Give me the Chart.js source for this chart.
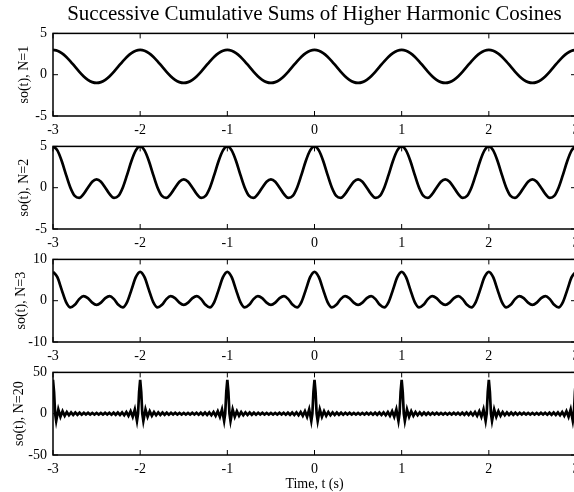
<!DOCTYPE html>
<html>
<head>
<meta charset="utf-8">
<script src="https://cdn.jsdelivr.net/npm/chart.js@4.4.0/dist/chart.umd.min.js"></script>
<style>
  html, body { margin: 0; padding: 0; background: #fff; overflow: hidden; }
  #page { position: relative; width: 574px; height: 492px; overflow: hidden; }
  #title { position: absolute; left: 53px; width: 523px; top: 0; text-align: center;
           font: 21px "Liberation Serif", serif; line-height: 26px; color: #000; white-space: nowrap; }
  canvas { position: absolute; left: 0; }
</style>
</head>
<body>
<div id="page">
  <canvas id="c1" width="590" height="122" style="top:19px"></canvas>
  <canvas id="c2" width="590" height="122" style="top:132px"></canvas>
  <canvas id="c3" width="590" height="122" style="top:245px"></canvas>
  <canvas id="c4" width="590" height="134" style="top:358px"></canvas>
  <div id="title">Successive Cumulative Sums of Higher Harmonic Cosines</div>
</div>
<script>
const periodStarts = [-3, -2, -1, 0, 1, 2];
const tEnd = 3;

// one period, sampled every 0.05 s (N = 1, 2, 3)
const offsetsSmooth = [0, 0.05, 0.1, 0.15, 0.2, 0.25, 0.3, 0.35, 0.4, 0.45,
                       0.5, 0.55, 0.6, 0.65, 0.7, 0.75, 0.8, 0.85, 0.9, 0.95];
const valuesN1 = [3, 2.90, 2.62, 2.18, 1.62, 1, 0.38, -0.18, -0.62, -0.90,
                  -1, -0.90, -0.62, -0.18, 0.38, 1, 1.62, 2.18, 2.62, 2.90];
const valuesN2 = [5, 4.52, 3.24, 1.56, 0, -1, -1.24, -0.79, 0, 0.72,
                  1, 0.72, 0, -0.79, -1.24, -1, 0, 1.56, 3.24, 4.52];
const valuesN3 = [7, 5.70, 2.62, -0.34, -1.62, -1, 0.38, 1.11, 0.62, -0.46,
                  -1, -0.46, 0.62, 1.11, 0.38, -1, -1.62, -0.34, 2.62, 5.70];

// one period for N = 20: the spike and the ripple peaks
const offsetsN20 = [0, 0.0122, 0.0244, 0.0366, 0.0610, 0.0854, 0.1098, 0.1341, 0.1585, 0.1829,
                    0.2073, 0.2317, 0.2561, 0.2805, 0.3049, 0.3293, 0.3537, 0.3780, 0.4024, 0.4268,
                    0.4512, 0.4756, 0.5, 0.5244, 0.5488, 0.5732, 0.5976, 0.6220, 0.6463, 0.6707,
                    0.6951, 0.7195, 0.7439, 0.7683, 0.7927, 0.8171, 0.8415, 0.8659, 0.8902, 0.9146,
                    0.9390, 0.9634, 0.9756, 0.9878];
const valuesN20 = [41, 26.1, 0, -8.72, 5.25, -3.77, 2.95, -2.44, 2.09, -1.84,
                   1.65, -1.50, 1.39, -1.30, 1.22, -1.16, 1.12, -1.08, 1.05, -1.03,
                   1.01, -1.00, 1.00, -1.00, 1.01, -1.03, 1.05, -1.08, 1.12, -1.16,
                   1.22, -1.30, 1.39, -1.50, 1.65, -1.84, 2.09, -2.44, 2.95, -3.77,
                   5.25, -8.72, 0, 26.1];

const xTicks = [-3, -2, -1, 0, 1, 2, 3];
const yLabels = ['so(t), N=1', 'so(t), N=2', 'so(t), N=3', 'so(t), N=20'];
const yRanges = [[-5, 5, 5], [-5, 5, 5], [-10, 10, 10], [-50, 50, 50]];

// lay the period over every second from -3 to 3
function buildSeries(offsets, values) {
  const pts = [];
  periodStarts.forEach((s) => {
    offsets.forEach((o, i) => pts.push({ x: s + o, y: values[i] }));
  });
  pts.push({ x: tEnd, y: values[0] });
  return pts;
}

// MATLAB-like box with inward tick marks
const boxPlugin = {
  id: 'box',
  afterDatasetsDraw(chart) {
    const { ctx, chartArea: a, scales: { x, y } } = chart;
    ctx.save();
    ctx.strokeStyle = '#000';
    ctx.lineWidth = 1.5;
    ctx.strokeRect(a.left, a.top, a.width, a.height);
    ctx.lineWidth = 1;
    ctx.beginPath();
    x.ticks.forEach((t) => {
      const px = x.getPixelForValue(t.value);
      ctx.moveTo(px, a.top); ctx.lineTo(px, a.top + 5);
      ctx.moveTo(px, a.bottom); ctx.lineTo(px, a.bottom - 5);
    });
    y.ticks.forEach((t) => {
      const py = y.getPixelForValue(t.value);
      ctx.moveTo(a.left, py); ctx.lineTo(a.left + 5, py);
      ctx.moveTo(a.right, py); ctx.lineTo(a.right - 5, py);
    });
    ctx.stroke();
    ctx.restore();
  },
};

Chart.defaults.font.family = '"Liberation Serif", serif';
Chart.defaults.color = '#000';

function makePanel(id, data, idx, smooth, last, titlePad) {
  const [yMin, yMax, yStep] = yRanges[idx];
  const font = { family: '"Liberation Serif", serif', size: 14 };
  new Chart(document.getElementById(id), {
    type: 'line',
    data: {
      datasets: [{
        data: data,
        borderColor: '#000',
        borderWidth: 2.7,
        pointRadius: 0,
        fill: false,
        tension: smooth ? 0.4 : 0,
        cubicInterpolationMode: smooth ? 'monotone' : 'default',
      }],
    },
    options: {
      responsive: false,
      animation: false,
      devicePixelRatio: 1,
      layout: { padding: { top: 12, right: 14, left: 0, bottom: 0 } },
      plugins: { legend: { display: false }, tooltip: { enabled: false } },
      scales: {
        x: {
          type: 'linear',
          min: xTicks[0],
          max: xTicks[xTicks.length - 1],
          afterBuildTicks: (s) => { s.ticks = xTicks.map((v) => ({ value: v })); },
          afterFit: (s) => { s.height = last ? 37 : 25; },
          ticks: { font: font, color: '#000', padding: 6, maxRotation: 0, autoSkip: false },
          grid: { display: false, drawTicks: false },
          border: { display: false },
          title: {
            display: last,
            text: 'Time, t (s)',
            font: font,
            color: '#000',
            padding: { top: 0, bottom: -1 },
          },
        },
        y: {
          min: yMin,
          max: yMax,
          afterFit: (s) => { s.width = 53; },
          ticks: { stepSize: yStep, font: font, color: '#000', padding: 6 },
          grid: { display: false, drawTicks: false },
          border: { display: false },
          title: {
            display: true,
            text: yLabels[idx],
            font: font,
            color: '#000',
            padding: { top: titlePad, bottom: 0 },
          },
        },
      },
    },
    plugins: [boxPlugin],
  });
}

makePanel('c1', buildSeries(offsetsSmooth, valuesN1), 0, true, false, 15.5);
makePanel('c2', buildSeries(offsetsSmooth, valuesN2), 1, true, false, 15.5);
makePanel('c3', buildSeries(offsetsSmooth, valuesN3), 2, true, false, 12.5);
makePanel('c4', buildSeries(offsetsN20, valuesN20), 3, false, true, 10.5);
</script>
</body>
</html>
